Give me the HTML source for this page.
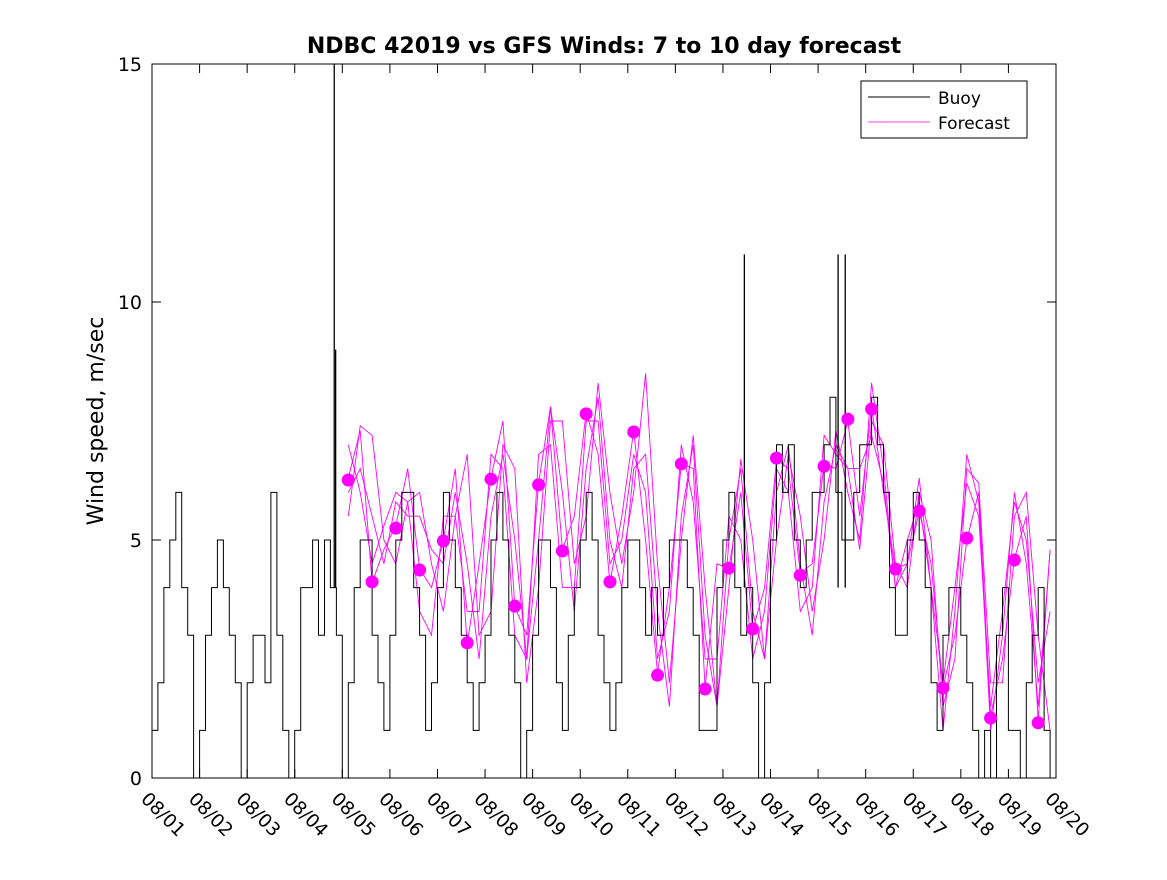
<!DOCTYPE html>
<html><head><meta charset="utf-8"><style>
body{margin:0;background:#fff;width:1167px;height:875px;overflow:hidden}
svg{font-family:"DejaVu Sans","Liberation Sans",sans-serif}
</style></head><body>
<svg id="chart" width="1167" height="875" viewBox="0 0 1167 875" xmlns="http://www.w3.org/2000/svg">
<rect width="1167" height="875" fill="#fff"/>
<defs><clipPath id="pc"><rect x="152" y="64" width="904" height="714"/></clipPath></defs>
<text x="604" y="53" text-anchor="middle" font-size="22" font-weight="bold">NDBC 42019 vs GFS Winds: 7 to 10 day forecast</text>
<text transform="translate(103,421) rotate(-90)" text-anchor="middle" font-size="22">Wind speed, m/sec</text>
<g id="marks" clip-path="url(#pc)"></g>
<g id="axes"></g>
<rect x="152" y="64" width="904" height="714" fill="none" stroke="#000" stroke-width="1"/>
<g>
<rect x="861" y="81" width="166" height="57" fill="#fff" stroke="#000"/>
<line x1="868" y1="97" x2="930" y2="97" stroke="#000"/>
<text x="938" y="104" font-size="17">Buoy</text>
<line x1="868" y1="122" x2="930" y2="122" stroke="#f0f" stroke-width="0.8"/>
<text x="938" y="129" font-size="17">Forecast</text>
</g>
</svg>
<script>
const xTickLabels=["08/01","08/02","08/03","08/04","08/05","08/06","08/07","08/08","08/09","08/10","08/11","08/12","08/13","08/14","08/15","08/16","08/17","08/18","08/19","08/20"];
const yTicks=[0,5,10,15];
const buoyStep=0.125;
const buoy=[1,2,4,5,6,4,3,0, 1,3,4,5,4,3,2,0, 2,3,3,2,6,3,1,0, 1,4,4,5,3,5,4,3,
0,2,4,5,5,3,2,1, 3,5,6,6,4,3,1,2, 4,6,5,4,3,2,1,2, 3,5,6,5,3,2,0,1,
3,5,5,4,2,1,3,4, 5,6,5,3,2,1,2,4, 5,5,4,3,4,3,4,5, 5,5,4,3,1,1,1,4,
5,6,4,3,4,2,0,2, 5,7,6,7,5,4,5,6, 6,7,8,6,5,5,6,7, 7,8,7,6,4,3,3,5,
6,5,4,2,1,3,4,4, 3,2,1,0,1,0,3,4, 1,1,0,2,3,4,1,0];
const spikeDays=[3.83,3.86,12.45,14.42,14.57];
const spikeValues=[15,9,11,11,11];
const fcStart=4.125, fcStep=0.25;
const fc1=[6.3,7.3,4.1,4.8,5.3,6.5,4.4,4.0,5.0,6.5,2.8,4.5,6.3,7.5,3.6,3.0,6.2,7.8,4.8,5.5,7.7,6.8,4.1,5.5,7.3,5.0,2.2,4.0,6.6,6.5,1.9,4.5,4.4,6.0,3.1,4.0,6.7,6.5,4.3,4.5,6.6,6.5,7.5,5.5,7.8,6.0,4.4,4.5,5.6,4.5,1.9,3.0,5.0,6.0,1.3,2.5,4.6,5.5,1.2,4.8];
const fc2=[5.5,7.4,7.2,5.0,4.5,5.8,6.0,4.5,3.5,5.5,6.8,3.0,3.5,7.0,6.5,2.0,4.0,7.5,7.5,4.5,5.5,8.3,6.0,4.5,6.0,8.5,4.5,2.0,5.0,7.2,4.0,1.5,4.0,6.7,5.0,2.5,5.0,6.8,5.5,3.5,5.0,7.3,6.0,5.0,8.3,6.5,4.0,4.5,6.3,4.0,2.0,4.0,6.2,5.5,1.5,3.5,5.8,5.0,2.0,3.5];
const fc3=[6.0,6.5,5.5,4.5,5.8,5.5,5.5,4.8,4.5,6.0,4.5,2.5,5.5,6.8,5.0,2.5,5.0,7.8,6.0,3.5,6.5,8.0,5.0,4.0,6.5,6.8,3.5,1.5,5.5,7.0,3.0,1.5,5.0,6.5,3.5,2.5,6.0,7.0,4.5,3.0,5.8,7.0,6.5,4.8,7.5,7.0,4.5,4.0,6.0,5.0,1.5,2.5,6.5,6.2,2.0,2.0,5.5,6.0,3.0,1.0];
const fc4=[7.0,6.0,4.5,5.3,6.0,5.8,3.5,3.0,5.5,5.5,3.5,3.5,6.8,6.5,3.0,2.5,6.8,7.0,4.0,4.0,7.5,7.5,4.5,5.0,6.8,6.0,2.5,3.5,7.0,5.8,2.5,2.5,5.5,5.0,2.5,3.5,6.5,6.0,3.5,4.0,7.2,6.8,6.5,6.5,7.2,6.2,4.0,5.0,5.8,4.0,1.0,3.5,6.8,5.8,1.0,3.0,6.0,4.5,1.5,4.8];
const dotStart=4.125, dotStep=0.5;
const dots=[6.26,4.12,5.25,4.37,4.98,2.84,6.28,3.61,6.16,4.77,7.65,4.12,7.27,2.16,6.6,1.87,4.41,3.13,6.72,4.26,6.55,7.54,7.75,4.39,5.61,1.89,5.04,1.26,4.58,1.16];

const X0=152,X1=1056,Y0=778,Y1=64;
const xs=d=>X0+(X1-X0)*d/19;
const ys=v=>Y0-(Y0-Y1)*v/15;
const NS="http://www.w3.org/2000/svg";
const marks=document.getElementById('marks'), axes=document.getElementById('axes');
function mk(t,a,p){const e=document.createElementNS(NS,t);for(const k in a)e.setAttribute(k,a[k]);p.appendChild(e);return e;}

[fc1,fc2,fc3,fc4].forEach((s,j)=>{
  const p=s.map((v,i)=>xs(fcStart+i*fcStep).toFixed(1)+','+ys(v).toFixed(1)).join(' ');
  const e=mk('polyline',{points:p,fill:'none',stroke:'#f0f','stroke-width':0.9},marks);
  
  
});
let bp=[];
buoy.forEach((v,i)=>{bp.push(xs(i*buoyStep).toFixed(1)+','+ys(v).toFixed(1));bp.push(xs((i+1)*buoyStep).toFixed(1)+','+ys(v).toFixed(1));});
const be=mk('polyline',{points:bp.join(' '),fill:'none',stroke:'#000','stroke-width':1},marks);


spikeDays.forEach((d,i)=>{
  const s=mk('line',{x1:xs(d),x2:xs(d),y1:ys(4),y2:ys(spikeValues[i]),stroke:'#000','stroke-width':1.3},marks);
  
  
});
dots.forEach((v,i)=>{
  const c=mk('circle',{cx:xs(dotStart+i*dotStep),cy:ys(v),r:6.5,fill:'#f0f'},marks);
  
  
});
xTickLabels.forEach((l,i)=>{
  const x=xs(i);
  mk('line',{x1:x,y1:Y0,x2:x,y2:Y0-9,stroke:'#000'},axes);
  mk('line',{x1:x,y1:Y1,x2:x,y2:Y1+9,stroke:'#000'},axes);
  const t=mk('text',{transform:`translate(${x-12},${Y0+22}) rotate(45)`,'font-size':18.5},axes);
  t.textContent=l;
  
  
});
yTicks.forEach(v=>{
  const y=ys(v);
  mk('line',{x1:X0,y1:y,x2:X0+9,y2:y,stroke:'#000'},axes);
  mk('line',{x1:X1,y1:y,x2:X1-9,y2:y,stroke:'#000'},axes);
  const t=mk('text',{x:X0-10,y:y+7,'text-anchor':'end','font-size':19},axes);
  t.textContent=v;
  
  
});
</script>
</body></html>
